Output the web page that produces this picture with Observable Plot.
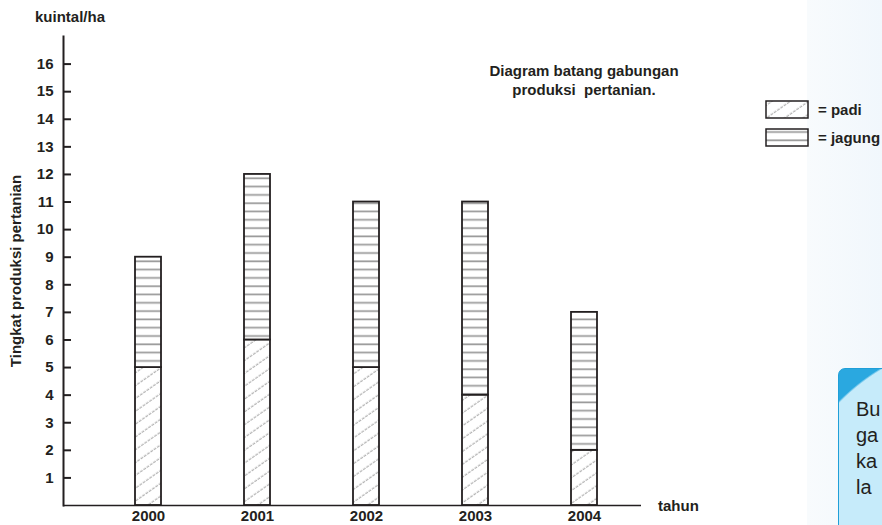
<!DOCTYPE html>
<html>
<head>
<meta charset="utf-8">
<script src="https://cdn.jsdelivr.net/npm/d3@7"></script>
<script src="https://cdn.jsdelivr.net/npm/@observablehq/plot@0.6"></script>
<style>
  html, body { margin: 0; padding: 0; background: #fff; }
  #wrap { position: relative; width: 882px; height: 525px; overflow: hidden; font-family: "Liberation Sans", Arial, sans-serif; color: #231f20; }
  #panel { position: absolute; left: 807px; top: 0; width: 75px; height: 525px; background: linear-gradient(to right, #f8fbfd, #f1f7fc); z-index: 0; }
  #chart { position: absolute; left: 0; top: 0; z-index: 1; }
  .lbl { position: absolute; font-weight: bold; font-size: 15px; white-space: nowrap; z-index: 2; line-height: 1; }
  #title { left: 484px; top: 62px; width: 200px; text-align: center; line-height: 18.5px; }
  #unit { left: 35px; top: 9px; }
  #tahun { left: 658px; top: 498px; }
  .leg { position: absolute; left: 765px; z-index: 2; display: flex; align-items: center; }
  .leg span { font-weight: bold; font-size: 15px; margin-left: 9px; white-space: nowrap; }
  #box { position: absolute; left: 838px; top: 368px; width: 80px; height: 170px; border: 1.5px solid #1f9fd8; border-radius: 7px 0 0 0;
         background: radial-gradient(circle at 150px 180px, #c6ebfa 209px, #2aa8e0 211px); z-index: 2; overflow: hidden; }
  #box div { position: absolute; left: 17px; top: 27px; font-size: 20px; line-height: 26px; color: #231f20; font-family: "Liberation Sans", Arial, sans-serif; }
</style>
</head>
<body>
<div id="wrap">
  <div id="panel"></div>
  <div id="chart"></div>
  <div class="lbl" id="unit">kuintal/ha</div>
  <div class="lbl" id="title">Diagram batang gabungan<br>produksi&nbsp; pertanian.</div>
  <div class="lbl" id="tahun">tahun</div>
  <div class="leg" id="leg1" style="top:100px"></div>
  <div class="leg" id="leg2" style="top:128px"></div>
  <div id="box"><div>Bu<br>ga<br>ka<br>la</div></div>
</div>
<script>
const years = ["2000", "2001", "2002", "2003", "2004"];
const padi = [5, 6, 5, 4, 2];
const jagung = [4, 6, 6, 7, 5];
const crops = ["padi", "jagung"];
const cropLabels = ["= padi", "= jagung"];
const yTicks = [1, 2, 3, 4, 5, 6, 7, 8, 9, 10, 11, 12, 13, 14, 15, 16];
const yLabel = "Tingkat produksi pertanian";

const data = years.flatMap((yr, i) => [
  {year: yr, crop: crops[0], value: padi[i]},
  {year: yr, crop: crops[1], value: jagung[i]}
]);

const patternIds = ["pat-padi", "pat-jagung"];

const plot = Plot.plot({
  width: 882,
  height: 525,
  marginLeft: 63,
  marginRight: 241,
  marginTop: 36,
  marginBottom: 20,
  style: {background: "transparent", fontFamily: "'Liberation Sans', Arial, sans-serif", fontSize: "15px", fontWeight: "bold", color: "#231f20", overflow: "visible"},
  x: {type: "band", domain: years, range: [78, 654], paddingInner: 0.7636, paddingOuter: 0.5},
  y: {domain: [0, 17]},
  color: {type: "ordinal", domain: crops, range: patternIds.map(id => `url(#${id})`)},
  marks: [
    Plot.barY(data, {x: "year", y: "value", fill: "crop", stroke: "#231f20", strokeWidth: 1.8}),
    Plot.ruleY([0], {stroke: "#231f20", strokeWidth: 1.6}),
    Plot.frame({anchor: "left", stroke: "#231f20", strokeWidth: 2}),
    Plot.axisY({ticks: yTicks, tickSize: 0, tickPadding: 10, label: yLabel, labelAnchor: "center", labelOffset: 53, labelArrow: "none"}),
    Plot.axisY({ticks: yTicks, tickSize: 8, dx: 8, fill: "none", label: null, stroke: "#231f20", strokeWidth: 2}),
    Plot.axisX({tickSize: 0, tickPadding: 5, label: null})
  ]
});

// hatch patterns
const defs = d3.select(plot).insert("defs", ":first-child");
const p1 = defs.append("pattern").attr("id", patternIds[0]).attr("patternUnits", "userSpaceOnUse")
  .attr("width", 12).attr("height", 10.5).attr("patternTransform", "rotate(-35)");
p1.append("rect").attr("width", 12).attr("height", 10.5).attr("fill", "#fff");
p1.append("line").attr("x1", 0).attr("x2", 12).attr("y1", 5).attr("y2", 5)
  .attr("stroke", "#9d9d9d").attr("stroke-width", 1).attr("stroke-dasharray", "3 1");
const p2 = defs.append("pattern").attr("id", patternIds[1]).attr("patternUnits", "userSpaceOnUse")
  .attr("width", 10).attr("height", 8.3);
p2.append("rect").attr("width", 10).attr("height", 8.3).attr("fill", "#fff");
p2.append("line").attr("x1", 0).attr("x2", 10).attr("y1", 4).attr("y2", 4)
  .attr("stroke", "#999").attr("stroke-width", 1.7);

document.getElementById("chart").appendChild(plot);

// legend
["leg1", "leg2"].forEach((id, i) => {
  const el = d3.select("#" + id);
  const s = el.append("svg").attr("width", 44).attr("height", 19);
  s.append("rect").attr("x", 1).attr("y", 1).attr("width", 42).attr("height", 17)
    .attr("fill", `url(#${patternIds[i]})`).attr("stroke", "#231f20").attr("stroke-width", 1.5);
  el.append("span").text(cropLabels[i]);
});
</script>
</body>
</html>
